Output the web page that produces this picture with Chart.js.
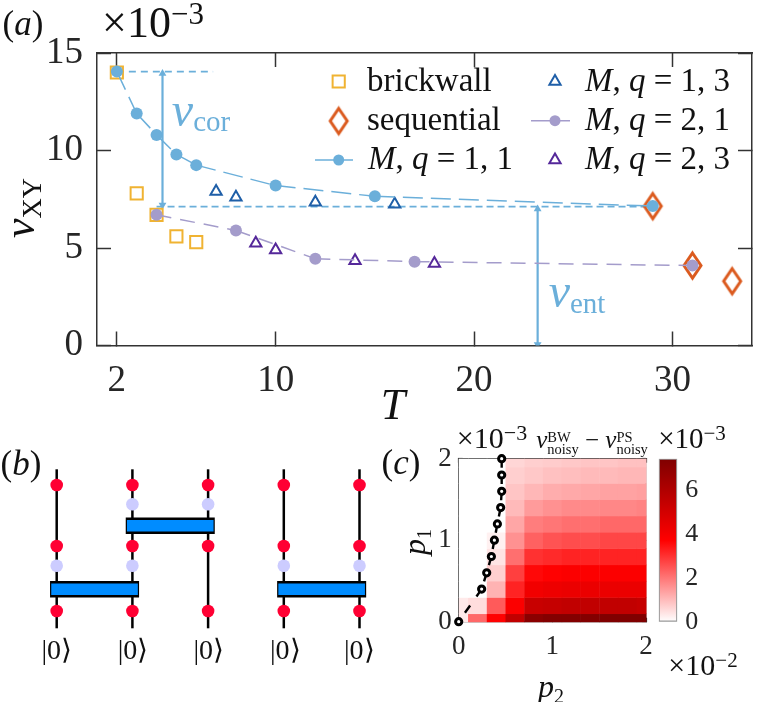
<!DOCTYPE html>
<html><head><meta charset="utf-8">
<style>
html,body{margin:0;padding:0;background:#fff;overflow:hidden}
#page{position:relative;width:757px;height:702px;overflow:hidden}
canvas{position:absolute;left:0;top:0}
.t{position:absolute;white-space:nowrap;font-family:"Liberation Serif",serif;line-height:1;color:#111}
.r{position:relative}
</style>
<script src="https://cdn.jsdelivr.net/npm/chart.js@4/dist/chart.umd.js"></script>
</head><body><div id="page">
<canvas id="ca" width="757" height="702"></canvas>
<canvas id="cb" width="757" height="702"></canvas>
<canvas id="cc" width="757" height="702"></canvas>
<canvas id="cd" width="757" height="702"></canvas>
</div>
<script>
// ---------- panel (a) data ----------
const xTicksA = [2, 10, 20, 30];
const yTicksA = [0, 5, 10, 15];
const brickT = [2, 3, 4, 5, 6];
const brickV = [14.0, 7.8, 6.7, 5.6, 5.3];
const seqT = [29, 31, 33];
const seqV = [7.15, 4.1, 3.3];
const m11T = [2, 3, 4, 5, 6, 10, 15, 29];
const m11V = [14.05, 11.9, 10.8, 9.8, 9.25, 8.2, 7.65, 7.15];
const m13T = [7, 8, 12, 16];
const m13V = [7.9, 7.6, 7.35, 7.25];
const m21T = [4, 8, 12, 17, 31];
const m21V = [6.7, 5.9, 4.45, 4.3, 4.1];
const m23T = [9, 10, 14, 18];
const m23V = [5.25, 4.9, 4.35, 4.2];
const corTopT = [2, 6.85];
const corTopV = [14.05, 14.05];
const corBaseT = [4, 29];
const corBaseV = [7.12, 7.12];
const corArrowT = [4.3, 4.3];
const corArrowV = [13.95, 7.2];
const entArrowT = [23.2, 23.2];
const entArrowV = [7.0, 0.05];
// ---------- panel (b) data ----------
const wires = [0, 1, 2, 3, 4];
const wireSpan = [0, 159];
const noiseLevels = [17.3, 82.3, 143.3];
const idleLevels = [[0, 62.6], [1, 62.6], [1, 124], [2, 124], [3, 62.6], [4, 62.6]];
const gates = [[0, 1, 39], [1, 2, 102.6], [3, 4, 39]];
// ---------- panel (c) data ----------
const p2Centers = [0, .2, .4, .6, .8, 1, 1.2, 1.4, 1.6, 1.8, 2];
const p1Centers = [0, .2, .4, .6, .8, 1, 1.2, 1.4, 1.6, 1.8, 2];
const heatRows = [
  [0.3, 2.2, 3.7, 5.5, 7.1, 7.3, 7.3, 7.3, 7.4, 7.4, 7.4],
  [0.3, 0.5, 2.4, 3.8, 5.3, 5.4, 5.5, 5.5, 5.5, 5.5, 5.4],
  [0, 0, 1.1, 3.2, 4.1, 4.2, 4.3, 4.3, 4.3, 4.3, 4.3],
  [0, 0, 0.7, 2.8, 3.6, 3.7, 3.8, 3.8, 3.8, 3.8, 3.8],
  [0, 0, 0.4, 2.1, 3.0, 3.1, 3.2, 3.2, 3.2, 3.2, 3.2],
  [0, 0, 0.2, 1.6, 2.3, 2.5, 2.6, 2.6, 2.7, 2.7, 2.7],
  [0, 0, 0, 1.3, 1.9, 2.0, 2.1, 2.1, 2.2, 2.2, 2.2],
  [0, 0, 0, 1.0, 1.45, 1.6, 1.7, 1.7, 1.75, 1.75, 1.8],
  [0, 0, 0, 0.85, 1.05, 1.2, 1.25, 1.3, 1.35, 1.35, 1.4],
  [0, 0, 0, 0.7, 0.8, 0.9, 0.95, 1.0, 1.0, 1.05, 1.05],
  [0, 0, 0, 0.6, 0.7, 0.75, 0.8, 0.85, 0.85, 0.9, 0.9]
];
const boundaryP2 = [.459, .459, .459, .448, .413, .381, .349, .299, .245, 0];
const boundaryP1 = [2, 1.8, 1.6, 1.4, 1.2, 1, .8, .6, .4, 0];
const cbarRange = [0, 7.43];
const cbarTicks = [0, 2, 4, 6];

// ---------- helpers ----------
const C = {blue:'#6BAFDA', lav:'#A49CCB', sq:'#F0B332', dia:'#DB5A1E', tri1:'#1F5FA8', tri2:'#55289A', ink:'#333333', tick:'#262626'};
const SERIF = '"Liberation Serif", serif';
const zip = (a, b) => a.map((x, i) => ({x, y: b[i]}));
Chart.defaults.animation = false;
Chart.defaults.font.family = SERIF;

function makeDiamond(w, h, lw, color) {
  const c = document.createElement('canvas');
  c.width = w + lw * 2 + 2; c.height = h + lw * 2 + 2;
  const g = c.getContext('2d');
  const cx = c.width / 2, cy = c.height / 2;
  g.strokeStyle = color; g.lineWidth = lw; g.lineJoin = 'miter';
  g.beginPath();
  g.moveTo(cx, cy - h / 2); g.lineTo(cx + w / 2, cy); g.lineTo(cx, cy + h / 2); g.lineTo(cx - w / 2, cy); g.closePath();
  g.stroke();
  return c;
}
const diamond = makeDiamond(17, 25, 3, C.dia);

// an axis with inward ticks; mirrored scales carry only the ticks
function axis(pos, min, max, ticks, o) {
  const horizontal = pos === 'top' || pos === 'bottom';
  const mirror = pos === 'top' || pos === 'right';
  return {
    type: 'linear', position: pos, min, max, display: true,
    afterBuildTicks: s => { s.ticks = ticks.map(value => ({value})); },
    afterFit: s => {
      if (horizontal) s.height = mirror ? 0 : o.size;
      else s.width = mirror ? 0 : o.size;
      s.paddingLeft = s.paddingRight = s.paddingTop = s.paddingBottom = 0;
    },
    border: {display: true, color: o.border || C.ink, width: o.bw || 1.5},
    grid: {display: true, drawOnChartArea: false, drawTicks: true, tickLength: -o.tl, tickColor: o.border || C.ink, tickWidth: o.bw || 1.5},
    ticks: mirror ? {display: false} : {
      display: true, autoSkip: false, maxRotation: 0, minRotation: 0,
      padding: o.pad + o.tl, color: C.tick, font: {size: o.font, family: SERIF},
      callback: v => String(v)
    }
  };
}

const arrowStyle = (t, v) => ({
  type: 'scatter', showLine: true, data: zip(t, v), borderColor: C.blue, backgroundColor: C.blue,
  borderWidth: 2.2, pointStyle: 'triangle', pointRadius: 4.5, pointBorderWidth: 0, pointRotation: [0, 180]
});
const dashRestart = {borderDashOffset: ctx => ctx.p0DataIndex * 1e-4};

// ---------- legend keys of panel (a) ----------
const legendKeys = {
  id: 'legendKeys',
  afterDatasetsDraw(chart) {
    const ctx = chart.ctx, dp = Chart.helpers.drawPoint;
    const mark = (style, r, x, y, color, fill, lw) => {
      ctx.save(); ctx.fillStyle = fill; ctx.strokeStyle = color; ctx.lineWidth = lw; ctx.setLineDash([]);
      dp(ctx, {pointStyle: style, rotation: 0, radius: r, borderWidth: lw}, x, y); ctx.restore();
    };
    const seg = (x1, x2, y, color) => {
      ctx.save(); ctx.strokeStyle = color; ctx.lineWidth = 1.6; ctx.beginPath(); ctx.moveTo(x1, y); ctx.lineTo(x2, y); ctx.stroke(); ctx.restore();
    };
    mark('rect', 8.6, 338.7, 81.5, C.sq, 'transparent', 2);
    mark(diamond, 10, 338.7, 121, C.dia, 'transparent', 0);
    seg(315, 353, 160, C.blue); mark('circle', 5.5, 338.7, 160, C.blue, C.blue, 0);
    mark('triangle', 6.5, 555, 81.5, C.tri1, 'transparent', 2);
    seg(531, 570, 120.7, C.lav); mark('circle', 5.5, 555, 120.7, C.lav, C.lav, 0);
    mark('triangle', 6.5, 555, 160, C.tri2, 'transparent', 2);
  }
};

// ---------- panel (a) ----------
new Chart(document.getElementById('ca'), {
  type: 'scatter',
  plugins: [legendKeys],
  data: {datasets: [
    {label: 'M, q = 1, 1', showLine: true, data: zip(m11T, m11V), borderColor: C.blue, backgroundColor: C.blue, borderWidth: 1.5, borderDash: [20, 8], segment: dashRestart, pointRadius: 6, pointBorderWidth: 0},
    {label: 'M, q = 2, 1', showLine: true, data: zip(m21T, m21V), borderColor: C.lav, backgroundColor: C.lav, borderWidth: 1.5, borderDash: [15, 9], segment: dashRestart, pointRadius: 6, pointBorderWidth: 0},
    {label: 'M, q = 1, 3', data: zip(m13T, m13V), borderColor: C.tri1, backgroundColor: 'transparent', pointStyle: 'triangle', pointRadius: 6.5, pointBorderWidth: 2},
    {label: 'M, q = 2, 3', data: zip(m23T, m23V), borderColor: C.tri2, backgroundColor: 'transparent', pointStyle: 'triangle', pointRadius: 6.5, pointBorderWidth: 2},
    {label: 'brickwall', data: zip(brickT, brickV), borderColor: C.sq, backgroundColor: 'transparent', pointStyle: 'rect', pointRadius: 8.6, pointBorderWidth: 2},
    {label: 'sequential', data: zip(seqT, seqV), pointStyle: diamond, pointRadius: 10},
    Object.assign(arrowStyle(corArrowT, corArrowV), {label: 'cor arrow'}),
    Object.assign(arrowStyle(entArrowT, entArrowV), {label: 'ent arrow'}),
    {label: 'top level', showLine: true, data: zip(corTopT, corTopV), borderColor: C.blue, borderWidth: 1.8, borderDash: [7, 5], pointRadius: 0},
    {label: 'base level', showLine: true, data: zip(corBaseT, corBaseV), borderColor: C.blue, borderWidth: 1.8, borderDash: [7, 4], pointRadius: 0}
  ]},
  options: {
    responsive: false, animation: false,
    layout: {autoPadding: false, padding: {left: 0, top: 53, right: 5, bottom: 0}},
    plugins: {legend: {display: false}, tooltip: {enabled: false}},
    scales: {
      x: axis('bottom', 1, 34, xTicksA, {size: 702 - 345.5, tl: 14, pad: 14, font: 37}),
      x2: axis('top', 1, 34, xTicksA, {tl: 14}),
      y: axis('left', 0, 15, yTicksA, {size: 97, tl: 14, pad: 14, font: 37}),
      y2: axis('right', 0, 15, yTicksA, {tl: 14})
    }
  }
});

// ---------- panel (b) ----------
const gateLine = (g, pad, color, w) => ({showLine: true, data: [{x: g[0] - pad, y: g[2]}, {x: g[1] + pad, y: g[2]}], borderColor: color, borderWidth: w, borderCapStyle: 'butt', pointRadius: 0, clip: false});
const noisePts = [];
wires.forEach(w => noiseLevels.forEach(y => noisePts.push({x: w, y})));
new Chart(document.getElementById('cb'), {
  type: 'scatter',
  data: {datasets: [
    ...gates.map(g => gateLine(g, 0.072, '#008CFF', 11.5)),
    ...gates.map(g => gateLine(g, 0.088, '#000000', 16.5)),
    {data: noisePts, backgroundColor: '#FF0033', pointRadius: 6.3, pointBorderWidth: 0, clip: false},
    {data: idleLevels.map(p => ({x: p[0], y: p[1]})), backgroundColor: '#CCCCFF', pointRadius: 6.3, pointBorderWidth: 0, clip: false},
    ...wires.map(w => ({showLine: true, data: wireSpan.map(y => ({x: w, y})), borderColor: '#000', borderWidth: 2.5, pointRadius: 0, clip: false}))
  ]},
  options: {
    responsive: false, animation: false,
    layout: {autoPadding: false, padding: {left: 56.7, right: 757 - 359.5, top: 469.3, bottom: 702 - 628.3}},
    plugins: {legend: {display: false}, tooltip: {enabled: false}},
    scales: {x: {type: 'linear', min: 0, max: 4, display: false}, y: {type: 'linear', min: 0, max: 159, display: false}}
  }
});

// ---------- panel (c) ----------
function heatColor(v) {
  const f = v / cbarRange[1];
  if (f <= 0.5) { const g = Math.round(255 * (1 - f / 0.5)); return `rgb(255,${g},${g})`; }
  return `rgb(${Math.round(255 - 128 * (f - 0.5) / 0.5)},0,0)`;
}
const cellEdges = (cs, i) => [Math.max(cs[0], i ? (cs[i] + cs[i - 1]) / 2 : cs[0]), Math.min(cs[cs.length - 1], i < cs.length - 1 ? (cs[i] + cs[i + 1]) / 2 : cs[cs.length - 1])];
const heatCells = [];
heatRows.forEach((row, j) => row.forEach((v, i) => heatCells.push({x: p2Centers[i], y: p1Centers[j], v, i, j})));
const heatPlugin = {
  id: 'heatPlugin',
  beforeDatasetsDraw(chart) {
    const {ctx, scales: {x, y}} = chart;
    heatCells.forEach(c => {
      const [x0, x1] = cellEdges(p2Centers, c.i), [y0, y1] = cellEdges(p1Centers, c.j);
      const px0 = x.getPixelForValue(x0), px1 = x.getPixelForValue(x1), py0 = y.getPixelForValue(y0), py1 = y.getPixelForValue(y1);
      ctx.fillStyle = heatColor(c.v);
      ctx.fillRect(px0, py1, px1 - px0 + 0.5, py0 - py1 + 0.5);
    });
  }
};
new Chart(document.getElementById('cc'), {
  type: 'scatter',
  plugins: [heatPlugin],
  data: {datasets: [
    {label: 'boundary', showLine: true, data: zip(boundaryP2, boundaryP1), borderColor: '#000', borderWidth: 2.4, borderDash: [9, 11], segment: dashRestart,
     backgroundColor: '#fff', pointBorderColor: '#000', pointBorderWidth: 3, pointRadius: 3.1, clip: false},
    {label: 'cells', data: heatCells, pointRadius: 0}
  ]},
  options: {
    responsive: false, animation: false,
    layout: {autoPadding: false, padding: {left: 0, top: 458.7, right: 757 - 646, bottom: 0}},
    plugins: {legend: {display: false}, tooltip: {enabled: false}},
    scales: {
      x: axis('bottom', 0, 2, [0, 1, 2], {size: 702 - 621.7, tl: 4, pad: 9, font: 27, bw: 1.2}),
      x2: axis('top', 0, 2, [0, 1, 2], {tl: 4, bw: 1.2}),
      y: axis('left', 0, 2, [0, 1, 2], {size: 458.7, tl: 4, pad: 7, font: 27, bw: 1.2}),
      y2: axis('right', 0, 2, [0, 1, 2], {tl: 4, bw: 1.2})
    }
  }
});

// ---------- colour bar ----------
new Chart(document.getElementById('cd'), {
  type: 'bar',
  data: {labels: ['scale'], datasets: [{
    data: [cbarRange], barPercentage: 1, categoryPercentage: 1, borderWidth: 1.5, borderColor: '#999', borderSkipped: false,
    backgroundColor: ctx => {
      const y = ctx.chart.scales.y;
      const a = y ? y.getPixelForValue(cbarRange[0]) : NaN, b = y ? y.getPixelForValue(cbarRange[1]) : NaN;
      if (!isFinite(a) || !isFinite(b)) return '#ff0000';
      const g = ctx.chart.ctx.createLinearGradient(0, a, 0, b);
      g.addColorStop(0, '#ffffff'); g.addColorStop(0.5, '#ff0000'); g.addColorStop(1, '#7f0000');
      return g;
    }
  }]},
  options: {
    responsive: false, animation: false,
    layout: {autoPadding: false, padding: {left: 658.7, top: 458.7, bottom: 702 - 621.7, right: 0}},
    plugins: {legend: {display: false}, tooltip: {enabled: false}},
    scales: {
      x: {type: 'category', display: false},
      y: {type: 'linear', position: 'right', min: cbarRange[0], max: cbarRange[1],
        afterBuildTicks: s => { s.ticks = cbarTicks.map(value => ({value})); },
        afterFit: s => { s.width = 757 - 677.3; s.paddingTop = s.paddingBottom = 0; },
        border: {display: false},
        grid: {display: false},
        ticks: {padding: 0, color: C.tick, autoSkip: false, font: {size: 26, family: SERIF}, callback: v => String(v)}
      }
    }
  }
});

// ---------- text ----------
const page = document.getElementById('page');
function T(x, y, html, size, o = {}) {
  const d = document.createElement('div');
  d.className = 't';
  d.innerHTML = html;
  d.style.left = x + 'px'; d.style.top = y + 'px'; d.style.fontSize = size + 'px';
  if (o.color) d.style.color = o.color;
  const tx = o.left ? '0' : '-50%';
  d.style.transform = `translate(${tx},-50%)` + (o.rot ? ` rotate(${o.rot}deg)` : '');
  page.appendChild(d);
}
const up = (s, size, top) => `<span class="r" style="font-size:${size}px;top:${top}px">${s}</span>`;
const nu = (sub, size, top) => `<i>ν</i>${up(sub, size, top)}`;
T(23, 23, '(<i>a</i>)', 35);
T(21, 463, '(<i>b</i>)', 35);
T(401, 462, '(<i>c</i>)', 35);
T(153, 23, '×10' + up('−3', 31, -13), 44);
T(20, 208, nu('XY', 28, 7), 44, {rot: -90});
T(393, 405, '<i>T</i>', 44);
T(201, 110, nu('cor', 29, 5), 48, {color: C.blue});
T(577, 291, nu('ent', 29, 6), 48, {color: C.blue});
T(367, 80, 'brickwall', 33, {left: 1});
T(367, 119, 'sequential', 33, {left: 1});
T(368, 158, '<i>M</i>, <i>q</i> = 1, 1', 33, {left: 1});
T(585, 80, '<i>M</i>, <i>q</i> = 1, 3', 33, {left: 1});
T(585, 119, '<i>M</i>, <i>q</i> = 2, 1', 33, {left: 1});
T(585, 158, '<i>M</i>, <i>q</i> = 2, 3', 33, {left: 1});
[56.7, 133, 208.7, 285.3, 359.3].forEach(x => T(x, 650, '|0⟩', 28));
T(492, 438, '×10' + up('−3', 22, -8), 30);
T(692, 438, '×10' + up('−3', 21, -8), 29);
T(703, 665, '×10' + up('−2', 21, -8), 30);
T(414, 542, '<i>p</i>' + up('1', 20, 6), 32, {rot: -90});
T(551, 686, '<i>p</i>' + up('2', 20, 6), 32);
const stack = (a, b) => `<span style="display:inline-block;vertical-align:middle;font-size:14.5px;line-height:12.5px;text-align:left;position:relative;top:1px">${a}<br>${b}</span>`;
T(592, 441, `<i>ν</i>${stack('BW', 'noisy')} − <i>ν</i>${stack('PS', 'noisy')}`, 25);
</script>
</body></html>
